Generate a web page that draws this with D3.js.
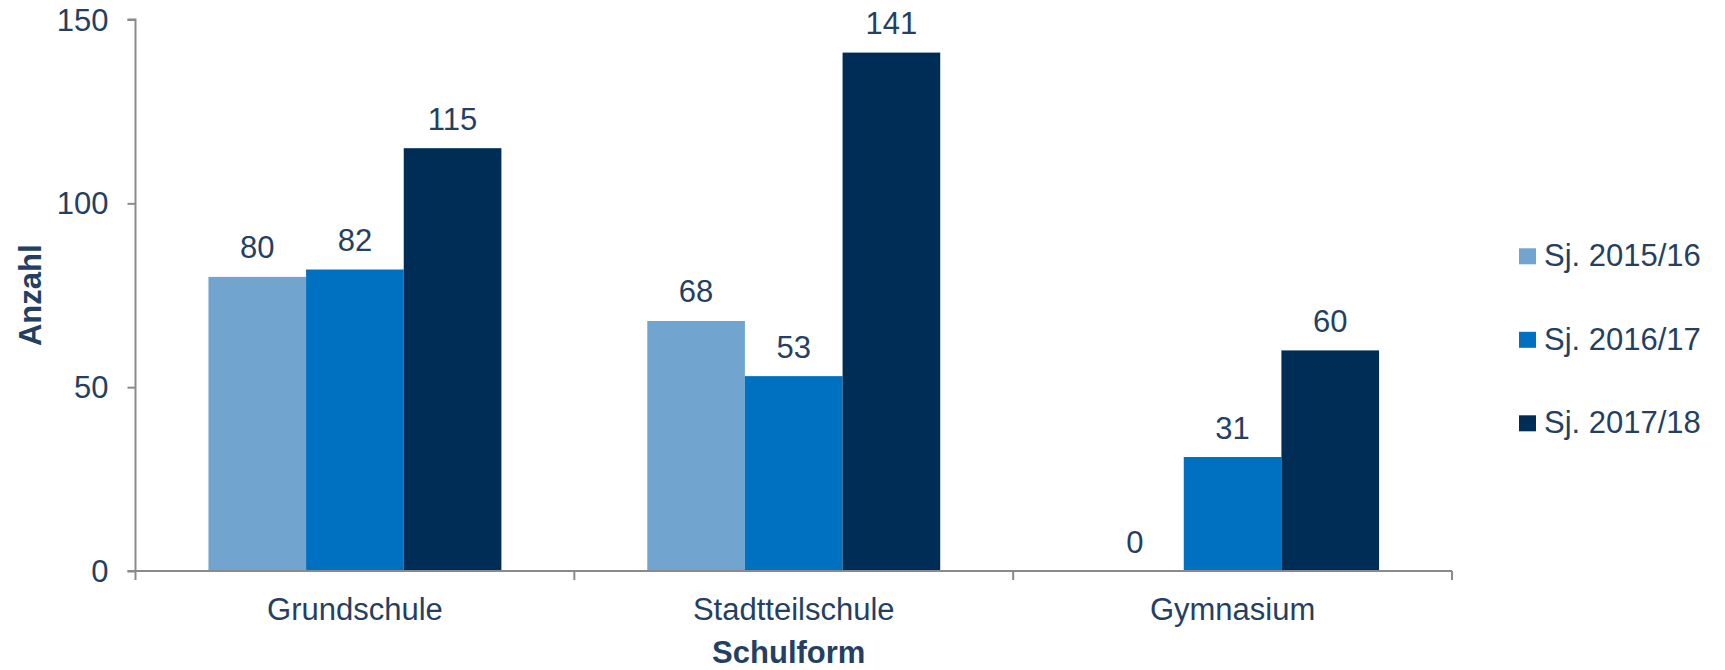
<!DOCTYPE html>
<html>
<head>
<meta charset="utf-8">
<script src="https://cdn.jsdelivr.net/npm/d3@7/dist/d3.min.js"></script>
<style>
  html, body { margin: 0; padding: 0; background: #ffffff; }
  svg { display: block; }
  text { font-family: "Liberation Sans", Arial, sans-serif; fill: #243f62; }
</style>
</head>
<body>
<svg id="chart" width="1725" height="670"></svg>
<script>
// Schüler je Schulform und Schuljahr
const categories = ["Grundschule", "Stadtteilschule", "Gymnasium"];
const seriesNames = ["Sj. 2015/16", "Sj. 2016/17", "Sj. 2017/18"];
const values2015 = [80, 68, 0];
const values2016 = [82, 53, 31];
const values2017 = [115, 141, 60];
const yTicks = [0, 50, 100, 150];
const seriesColors = ["#71a5cf", "#0070c0", "#002d56"];

const seriesValues = [values2015, values2016, values2017];

const svg = d3.select("#chart");
const margin = { left: 135.5, right: 1452, top: 19.5, bottom: 571 };
const fontSize = 31;
const axisColor = "#8a8a8a";

const x0 = d3.scaleBand().domain(categories).range([margin.left, margin.right]).paddingInner(0).paddingOuter(0);
const x1 = d3.scaleBand().domain(seriesNames).range([0, x0.bandwidth()]).paddingInner(0).paddingOuter(0.747);
const y = d3.scaleLinear().domain([0, 150]).range([margin.bottom, margin.top]);

// bars
const groups = svg.append("g").selectAll("g")
  .data(categories)
  .join("g")
  .attr("transform", d => `translate(${x0(d)},0)`);

groups.selectAll("rect")
  .data((c, ci) => seriesNames.map((s, si) => ({ s, si, v: seriesValues[si][ci] })))
  .join("rect")
  .attr("x", d => x1(d.s))
  .attr("width", x1.bandwidth())
  .attr("y", d => y(d.v))
  .attr("height", d => y(0) - y(d.v))
  .attr("fill", d => seriesColors[d.si]);

// value labels
groups.selectAll("text.val")
  .data((c, ci) => seriesNames.map((s, si) => ({ s, si, v: seriesValues[si][ci] })))
  .join("text")
  .attr("class", "val")
  .attr("x", d => x1(d.s) + x1.bandwidth() / 2)
  .attr("y", d => y(d.v) - 18.5)
  .attr("text-anchor", "middle")
  .style("font-size", fontSize + "px")
  .text(d => d.v);

// y axis
const yAxis = svg.append("g")
  .attr("transform", `translate(${margin.left},0)`)
  .call(d3.axisLeft(y).tickValues(yTicks).tickSize(8).tickPadding(19).tickFormat(d3.format("d")));
yAxis.select(".domain").attr("stroke", axisColor).attr("stroke-width", 2).attr("d", `M-8,${margin.top}H0V${margin.bottom}H-8`);
yAxis.selectAll(".tick line").attr("stroke", axisColor).attr("stroke-width", 2);
yAxis.selectAll(".tick text").style("font-size", fontSize + "px").attr("fill", "#243f62").attr("dy", "0.34em");

// x axis with category boundary ticks
const xg = svg.append("g");
xg.append("line")
  .attr("x1", margin.left).attr("x2", margin.right)
  .attr("y1", y(0)).attr("y2", y(0))
  .attr("stroke", axisColor).attr("stroke-width", 2);
const boundaries = categories.map(c => x0(c)).concat([x0(categories[categories.length - 1]) + x0.bandwidth()]);
xg.selectAll("line.tk")
  .data(boundaries)
  .join("line")
  .attr("class", "tk")
  .attr("x1", d => d).attr("x2", d => d)
  .attr("y1", y(0)).attr("y2", y(0) + 9)
  .attr("stroke", axisColor).attr("stroke-width", 2);
xg.selectAll("text.cat")
  .data(categories)
  .join("text")
  .attr("class", "cat")
  .attr("x", d => x0(d) + x0.bandwidth() / 2)
  .attr("y", 620)
  .attr("text-anchor", "middle")
  .style("font-size", fontSize + "px")
  .text(d => d);

// axis titles
svg.append("text")
  .attr("x", (margin.left + margin.right) / 2 - 5)
  .attr("y", 663)
  .attr("text-anchor", "middle")
  .style("font-size", fontSize + "px")
  .style("font-weight", "bold")
  .text("Schulform");

svg.append("text")
  .attr("transform", `translate(40.5,${(margin.top + margin.bottom) / 2}) rotate(-90)`)
  .attr("text-anchor", "middle")
  .style("font-size", fontSize + "px")
  .style("font-weight", "bold")
  .text("Anzahl");

// legend
const legend = svg.append("g").selectAll("g")
  .data(seriesNames)
  .join("g")
  .attr("transform", (d, i) => `translate(1519,${248.3 + i * 83.5})`);
legend.append("rect")
  .attr("width", 17).attr("height", 16)
  .attr("fill", (d, i) => seriesColors[i]);
legend.append("text")
  .attr("x", 25)
  .attr("y", 17.7)
  .style("font-size", fontSize + "px")
  .text(d => d);
</script>
</body>
</html>
